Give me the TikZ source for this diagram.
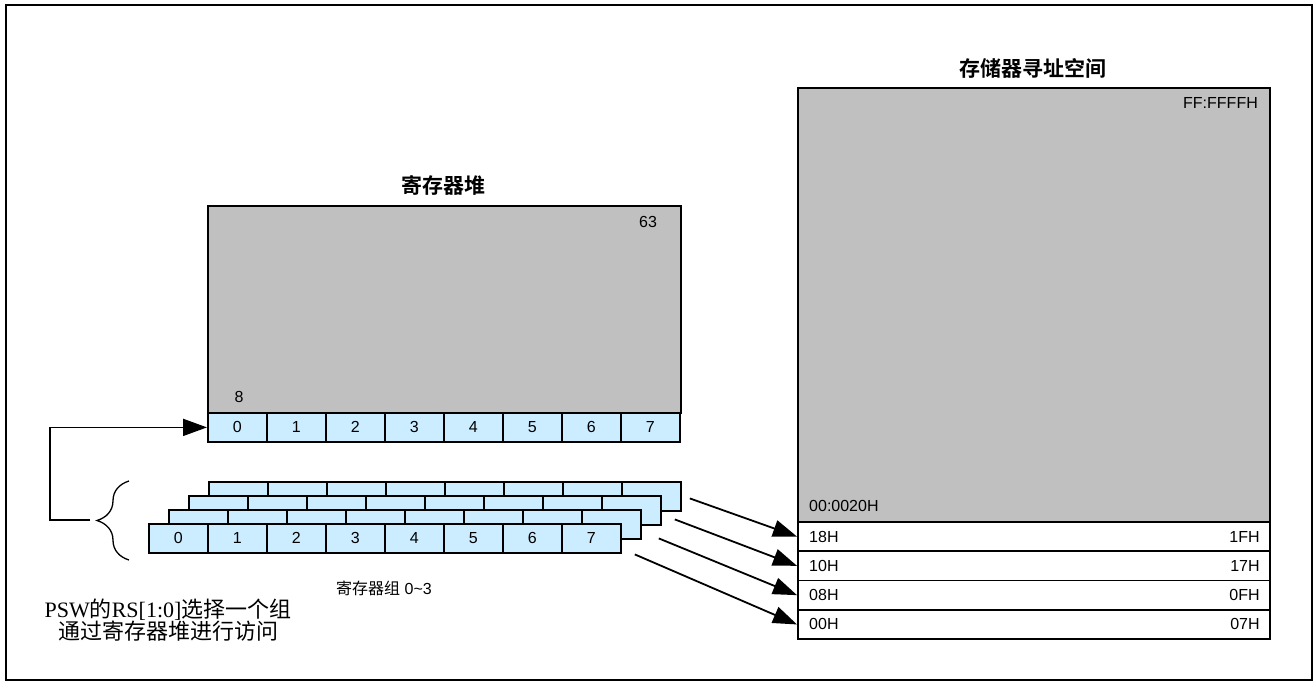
\documentclass[tikz,border=0pt]{standalone}
\usepackage{fontspec}
\usetikzlibrary{arrows.meta,decorations.pathreplacing}
\setmainfont{Liberation Sans}
\newfontfamily\cjk{Noto Sans CJK SC}[BoldFont={Noto Sans CJK SC Bold}]
\newfontfamily\serif{Liberation Serif}

\definecolor{cellblue}{HTML}{CCECFF}
\definecolor{heapgray}{HTML}{C0C0C0}

\begin{document}
\begin{tikzpicture}[x=1pt,y=-1pt,
  cell/.style={draw=black,line width=1.8pt,fill=cellblue,minimum width=59pt,minimum height=29pt,inner sep=0pt,anchor=north west,font=\fontsize{16}{16}\selectfont},
  graybox/.style={draw=black,line width=1.8pt,fill=heapgray,inner sep=0pt,anchor=north west},
  slot/.style={draw=black,line width=1.8pt,fill=white,minimum width=472pt,minimum height=29.3pt,inner sep=0pt,anchor=north west},
  lbl/.style={inner sep=0pt,font=\fontsize{16}{16}\selectfont},
  title/.style={inner sep=0pt,font=\cjk\bfseries\fontsize{21}{21}\selectfont},
  arr/.style={line width=1.8pt,-{Triangle[length=24pt,width=17pt]}}]
  \useasboundingbox (0,0) rectangle (1316,682);
  \draw[line width=2.2pt] (6,5) rectangle (1312,680);

  % register heap
  \node[title] (heaptitle) at (443,185) {寄存器堆};
  \node[graybox,minimum width=473pt,minimum height=207pt] (heap) at (207,205) {};
  \node[lbl] (heaptop) at (648,222) {63};
  \node[lbl] (heapbot) at (239,397) {8};
  \foreach \i in {0,...,7}
    \node[cell] (h\i) at (207+59*\i,412) {\i};

  % register banks 0-3
  \foreach \k in {3,2,1}
    \foreach \i in {0,...,7}
      \node[cell] (b\k-\i) at (148+20*\k+59*\i,523-14*\k) {};
  \foreach \i in {0,...,7}
    \node[cell] (b0-\i) at (148+59*\i,523) {\i};
  \node[lbl] (banks) at (384,588) {{\cjk 寄存器组} 0\textasciitilde3};

  % memory space
  \node[title] (memtitle) at (1033,68) {存储器寻址空间};
  \node[graybox,minimum width=472pt,minimum height=434pt] (mem) at (797,87) {};
  \node[lbl,anchor=east] (memtop) at (1258,103) {FF:FFFFH};
  \node[lbl,anchor=west] (membot) at (809,506) {00:0020H};
  \foreach \k/\lo/\hi [count=\n from 0] in {3/18H/1FH,2/10H/17H,1/08H/0FH,0/00H/07H} {
    \node[slot] (r\k) at (797,521+29.3*\n) {};
    \node[lbl,anchor=west] (r\k lo) at ([xshift=12pt]r\k.west) {\lo};
    \node[lbl,anchor=east] (r\k hi) at ([xshift=-11pt]r\k.east) {\hi};
  }
  \foreach \k/\dx/\dy in {3/8/2,2/13/9,1/17/14,0/13/16}
    \draw[arr] ([shift={(\dx,\dy)}]b\k-7.east) -- (r\k.west);

  % bank select
  \draw[line width=1.3pt,decorate,decoration={brace,amplitude=32pt}] (129,560) -- (129,481);
  \coordinate (pswtip) at (90,520);
  \draw[arr] (pswtip) -- ++(-40,0) |- (h0.west);
  \node[align=center,inner sep=0pt,font=\serif\fontsize{22}{20}\selectfont] (psw) at (168,620)
    {PSW{\cjk 的}RS[1:0]{\cjk 选择一个组}\\{\cjk 通过寄存器堆进行访问}};
\end{tikzpicture}
\end{document}
